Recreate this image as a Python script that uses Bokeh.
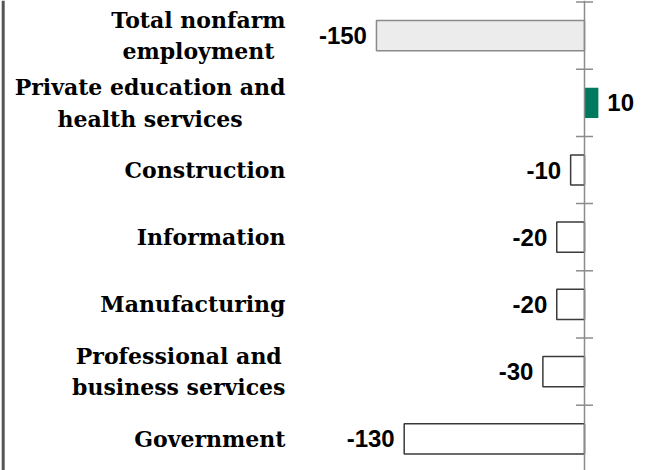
from bokeh.plotting import figure
from bokeh.models import ColumnDataSource, Range1d, Span
from bokeh.core.properties import value
from bokeh.embed import file_html
from bokeh.resources import INLINE

categories = [
    "Total nonfarm\nemployment",
    "Private education and\nhealth services",
    "Construction",
    "Information",
    "Manufacturing",
    "Professional and\nbusiness services",
    "Government",
]
changes = [-150, 10, -10, -20, -20, -30, -130]
value_labels = ["-150", "10", "-10", "-20", "-20", "-30", "-130"]

# layout constants (screen geometry)
W, H = 652, 470
PX_PER_UNIT = 1.387
ZERO_X = 584          # px of the zero line
BAND = 67.2           # px per category band
FIRST_CENTER = 35.1   # px of first band centre
LABEL_RIGHT = 285     # px of category label right edge
BORDER_X = 2.7        # px of the left frame border

x0 = -ZERO_X / PX_PER_UNIT
x1 = (W - ZERO_X) / PX_PER_UNIT
y_top = -FIRST_CENTER / BAND
y_bot = (H - FIRST_CENTER) / BAND

idx = list(range(len(categories)))
fills, lines = [], []
for i, v in enumerate(changes):
    if i == 0:
        fills.append("#ececec"); lines.append("#8a8a8a")
    elif v > 0:
        fills.append("#007a5e"); lines.append(None)
    else:
        fills.append("#ffffff"); lines.append("#3a3a3a")

src = ColumnDataSource(dict(y=idx, v=changes, lab=value_labels, cat=categories,
                            fill=fills, line=lines))

p = figure(width=W, height=H, x_range=Range1d(x0, x1), y_range=Range1d(y_bot, y_top),
           x_axis_type=None, y_axis_type=None, toolbar_location=None,
           output_backend="svg", min_border=0, outline_line_color=None)
p.xgrid.visible = False
p.ygrid.visible = False
p.background_fill_color = "white"

# left frame border
p.add_layout(Span(location=(BORDER_X - ZERO_X) / PX_PER_UNIT, dimension="height",
                  line_color="#555555", line_width=3))

p.hbar(y="y", left=0, right="v", height=0.45, source=src,
       fill_color="fill", line_color="line", line_width=1.5)

# vertical axis line with crossing ticks
p.add_layout(Span(location=0, dimension="height", line_color="#8c8c8c", line_width=1.5))
ticks = [i - 0.5 for i in range(len(categories) + 1)]
p.scatter(x=[0] * len(ticks), y=ticks, marker="dash", size=17,
          line_color="#8c8c8c", line_width=1.5)

neg = ColumnDataSource(dict(x=[v for v in changes if v < 0],
                            y=[i for i, v in zip(idx, changes) if v < 0],
                            t=[l for l, v in zip(value_labels, changes) if v < 0]))
pos = ColumnDataSource(dict(x=[v for v in changes if v >= 0],
                            y=[i for i, v in zip(idx, changes) if v >= 0],
                            t=[l for l, v in zip(value_labels, changes) if v >= 0]))
p.text(x="x", y="y", text="t", source=neg, text_align="right", text_baseline="middle",
       x_offset=-9.5, text_font=value("Liberation Sans"), text_font_style="bold",
       text_font_size="24px", text_color="black")
p.text(x="x", y="y", text="t", source=pos, text_align="left", text_baseline="middle",
       x_offset=9, text_font=value("Liberation Sans"), text_font_style="bold",
       text_font_size="24px", text_color="black")

label_x = (LABEL_RIGHT - ZERO_X) / PX_PER_UNIT
p.text(x=label_x, y="y", text="cat", source=src, text_align="center",
       anchor="center_right", text_baseline="middle",
       text_font=value("DejaVu Serif"), text_font_style="bold",
       text_font_size="22px", text_line_height=1.21, text_color="black")

open("out.html", "w").write(file_html(p, INLINE))
